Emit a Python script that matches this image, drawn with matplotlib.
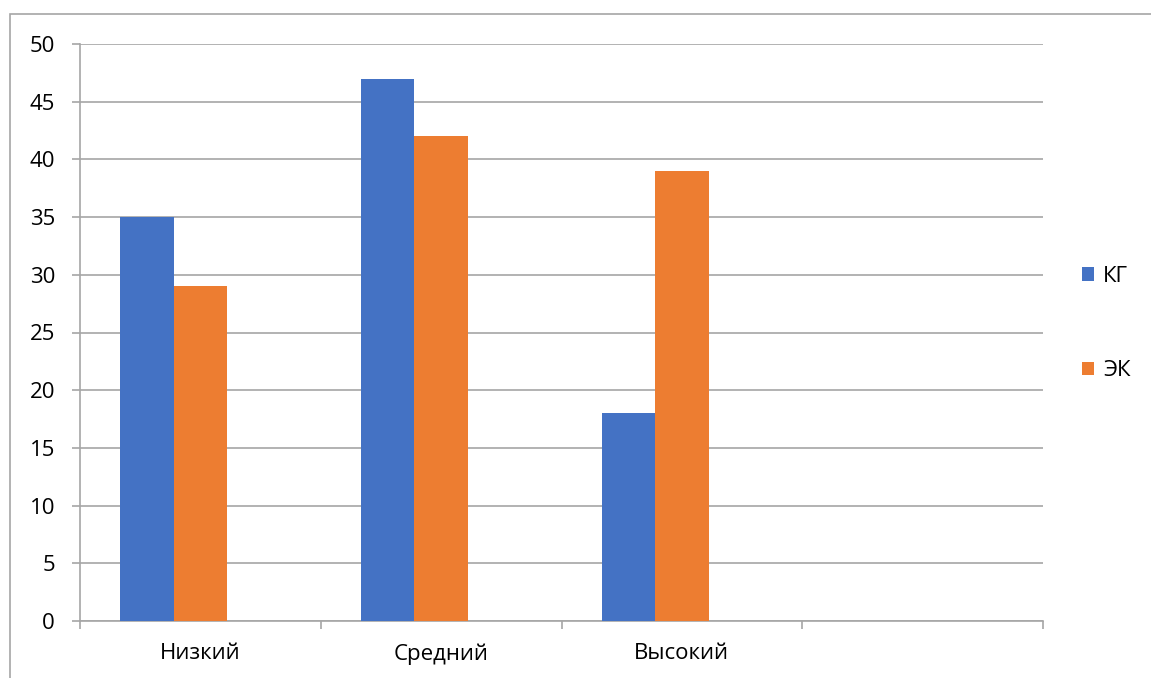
import numpy as np
import matplotlib.pyplot as plt
from matplotlib.patches import Rectangle

categories = ['Низкий', 'Средний', 'Высокий', '']
kg = [35, 47, 18, 0]
ek = [29, 42, 39, 0]
y_ticks = [0, 5, 10, 15, 20, 25, 30, 35, 40, 45, 50]

blue = '#4472C4'
orange = '#ED7D31'
grid_gray = '#A6A6A6'

plt.rcParams['font.family'] = ['Open Sans', 'DejaVu Sans']

fig = plt.figure(figsize=(11.51, 6.78), dpi=100)
ax = fig.add_axes([80 / 1151, 1 - 621 / 678, (1043 - 80) / 1151, (621 - 44) / 678])

x = np.arange(len(categories))
w = 0.2225
# the chart reserves room for three series per group, only two used
ax.bar(x[:3] - w, kg[:3], width=w, color=blue, label='КГ', zorder=3)
ax.bar(x[:3], ek[:3], width=w, color=orange, label='ЭК', zorder=3)

ax.set_xlim(-0.5, len(categories) - 0.5)
ax.set_ylim(0, 50)
ax.set_yticks(y_ticks)
ax.set_yticklabels([str(v) for v in y_ticks])
ax.set_xticks(np.arange(len(categories) + 1) - 0.5)
ax.set_xticklabels([])
ax.set_xticks(x, minor=True)
ax.set_xticklabels(categories, minor=True)

ax.yaxis.grid(True, color=grid_gray, linewidth=1.2, zorder=0)
ax.tick_params(axis='y', length=6, color=grid_gray, width=1.2, pad=12, labelsize=16)
ax.tick_params(axis='x', which='major', length=6, color=grid_gray, width=1.2)
ax.tick_params(axis='x', which='minor', length=0, pad=16, labelsize=16)

for side in ['top', 'right']:
    ax.spines[side].set_visible(False)
for side in ['left', 'bottom']:
    ax.spines[side].set_color(grid_gray)
    ax.spines[side].set_linewidth(1.2)

fig.legend(loc='upper left', bbox_to_anchor=(1062 / 1151, 1 - 246 / 678),
           frameon=False, fontsize=16, handlelength=0.55, handleheight=0.55,
           handletextpad=0.4, labelspacing=3.3)

fig.patches.append(Rectangle((10 / 1151, -0.1), 1.2, 1.1 - 14 / 678,
                             transform=fig.transFigure, fill=False,
                             edgecolor=grid_gray, linewidth=1.2))

fig.savefig('out.png', dpi=100)
